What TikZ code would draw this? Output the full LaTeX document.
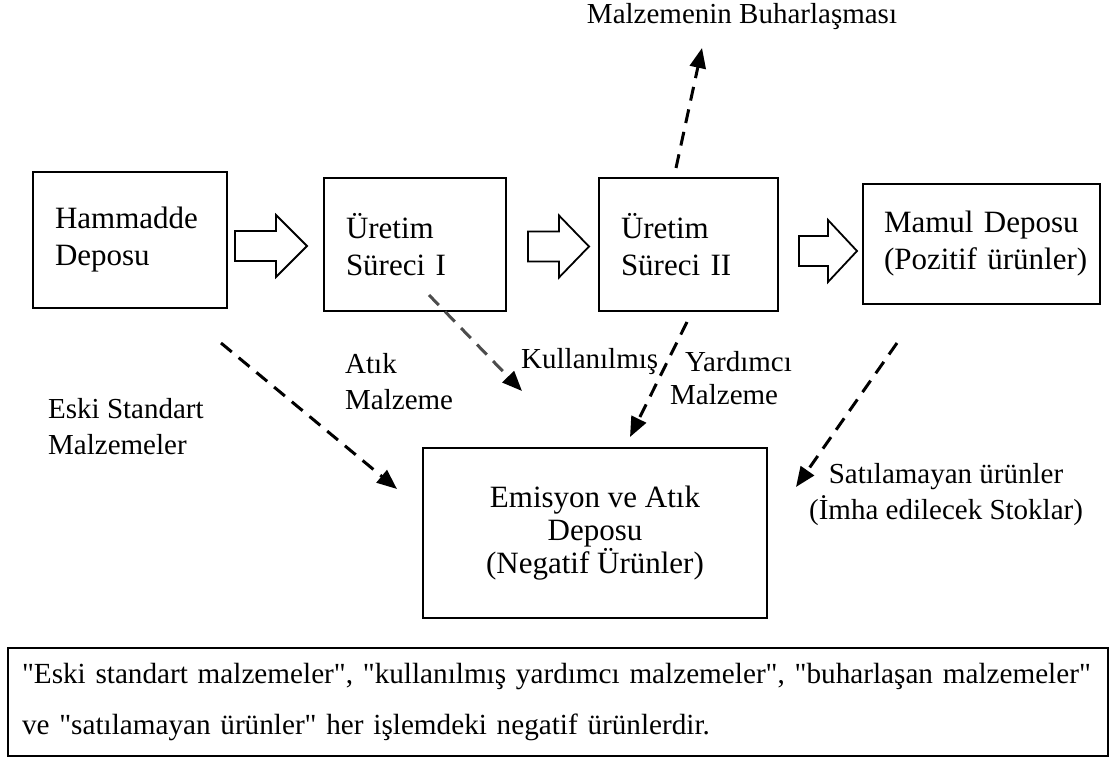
\documentclass[tikz,border=0pt]{standalone}
\usepackage{fontspec}
\setmainfont{Liberation Serif}
\newfontfamily\plainserif{Liberation Serif}
\usetikzlibrary{arrows.meta}
\begin{document}
\begin{tikzpicture}[x=1pt,y=-1pt,
  box/.style={draw, line width=2.4pt, rectangle, inner ysep=0pt, font=\fontsize{31}{37}\selectfont},
  lbl/.style={inner sep=0pt, font=\fontsize{29}{36}\selectfont},
  dasharrow/.style={line width=3pt, dash pattern=on 14pt off 9pt, -{Triangle[length=20pt,width=16pt,color=black,fill=black]}},
  blockarrow/.style={draw, line width=1.8pt, line join=miter}
]
\useasboundingbox (0,0) rectangle (1110,760);

% boxes
\node[box, minimum width=194pt, minimum height=136pt, inner xsep=22pt, text width=150pt, align=left] (ham) at (130,240) {Hammadde\\Deposu};
\node[box, minimum width=182pt, minimum height=133pt, inner xsep=22pt, text width=138pt, align=left] (u1) at (415,244.5) {Üretim\\Süreci I};
\node[box, minimum width=179pt, minimum height=133pt, inner xsep=22pt, text width=135pt, align=left] (u2) at (688.5,244.5) {Üretim\\Süreci II};
\node[box, minimum width=237pt, minimum height=120pt, inner xsep=21pt, text width=195pt, align=left] (mam) at (981.5,244) {\makebox[194pt][s]{Mamul Deposu}\\\makebox[194pt][s]{(Pozitif ürünler)}};
\node[box, minimum width=344pt, minimum height=170pt, align=center, font=\fontsize{31}{33}\selectfont] (emi) at (595,533) {Emisyon ve Atık\\Deposu\\(Negatif Ürünler)};
\node[box, line width=1.8pt, minimum width=1100pt, minimum height=108pt, inner xsep=14pt, text width=1072pt, align=left, font=\plainserif\fontsize{29.2}{51}\selectfont] (note) at (558,702) {\mbox{"Eski standart malzemeler", "kullanılmış yardımcı malzemeler", "buharlaşan malzemeler"}\\ve "satılamayan ürünler" her işlemdeki negatif ürünlerdir.};

% block arrows
\draw[blockarrow] (235,231) -- (276,231) -- (276,215) -- (307,246) -- (276,277) -- (276,261) -- (235,261) -- cycle;
\draw[blockarrow] (528,231.5) -- (559,231.5) -- (559,215.5) -- (589,246.5) -- (559,277.5) -- (559,261.5) -- (528,261.5) -- cycle;
\draw[blockarrow] (799,236) -- (828,236) -- (828,220) -- (857,251) -- (828,282) -- (828,266) -- (799,266) -- cycle;

% labels
\node[lbl] (buh) at (742,17) {Malzemenin Buharlaşması};
\node[lbl, anchor=west, align=left] (atik) at (345,382) {Atık\\Malzeme};
\node[lbl, anchor=west, align=left] (eski) at (48,427) {Eski Standart\\Malzemeler};
\node[lbl, anchor=west] (kul) at (521,362) {Kullanılmış};
\node[lbl, anchor=west] (yar) at (685,362) {Yardımcı};
\node[lbl, anchor=west] (yarm) at (670,395) {Malzeme};
\node[lbl, align=center] (sat) at (946,495) {Satılamayan ürünler\\(İmha edilecek Stoklar)};

% dashed connectors
\coordinate (upS) at (676,168);
\coordinate (upE) at (702,48);
\coordinate (d1S) at (221,343);
\coordinate (d1E) at (397,489);
\coordinate (d2S) at (429,295);
\coordinate (d2E) at (522,391);
\coordinate (d3S) at (687,322);
\coordinate (d3E) at (630,437);
\coordinate (d4S) at (897,343);
\coordinate (d4E) at (796,487);
\draw[dasharrow] (upS) -- (upE);
\draw[dasharrow] (d1S) -- (d1E);
\draw[dasharrow, draw=black!70] (d2S) -- (d2E);
\draw[dasharrow] (d3S) -- (d3E);
\draw[dasharrow] (d4S) -- (d4E);
\end{tikzpicture}
\end{document}
